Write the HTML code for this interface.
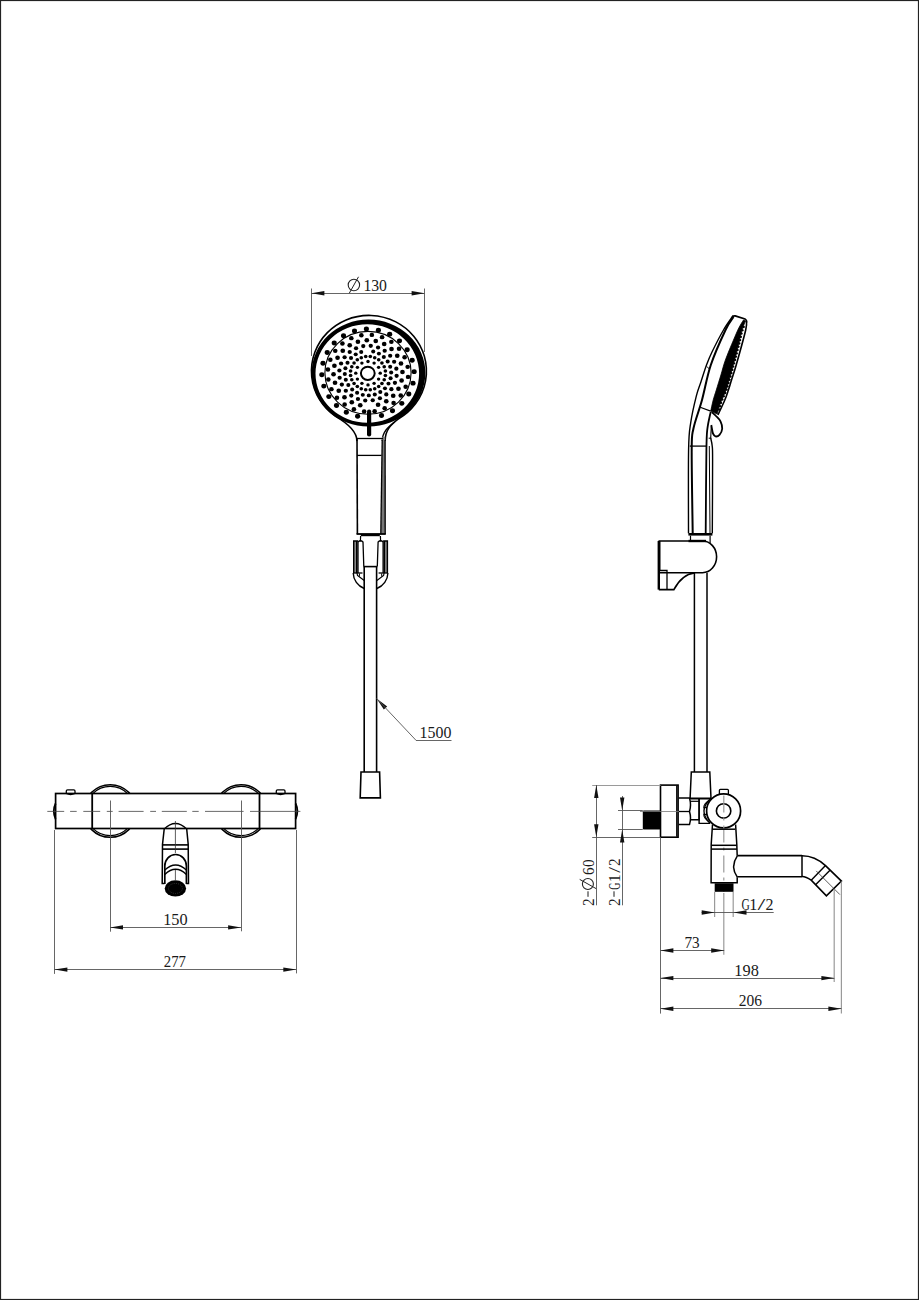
<!DOCTYPE html>
<html><head><meta charset="utf-8"><title>Drawing</title>
<style>
html,body{margin:0;padding:0;background:#fff;overflow:hidden;}
svg{display:block;}
text{font-family:"Liberation Serif",serif;fill:#1a1a1a;}
</style></head><body>
<svg width="919" height="1300" viewBox="0 0 919 1300">
<rect x="0" y="0" width="919" height="1300" fill="#fff"/>
<rect x="0.5" y="0.5" width="918" height="1299" fill="none" stroke="#222" stroke-width="1.2"/>

<line x1="311.50" y1="288.50" x2="311.50" y2="356.00" stroke="#555" stroke-width="0.9" />
<line x1="424.50" y1="288.50" x2="424.50" y2="352.00" stroke="#555" stroke-width="0.9" />
<line x1="311.40" y1="293.50" x2="424.60" y2="293.50" stroke="#555" stroke-width="0.9" />
<polygon points="311.40,293.30 324.40,291.10 324.40,295.50" fill="#111"/>
<polygon points="424.60,293.30 411.60,295.50 411.60,291.10" fill="#111"/>
<g transform="rotate(0 353.9 285.0)"><circle cx="353.9" cy="285.0" r="5.7" fill="none" stroke="#222" stroke-width="1.1"/><line x1="349.29999999999995" y1="293.2" x2="358.5" y2="276.8" stroke="#222" stroke-width="1.0"/></g>
<text x="363.4" y="290.6" font-size="16" textLength="23.6" lengthAdjust="spacingAndGlyphs" >130</text>
<path d="M356.9,441 C356.9,431 347,423 335.5,416.4 A57.5,55.7 0 1 1 398.6,418.8 C392,424 385.2,429 385.1,441" stroke="#000" stroke-width="1.6" fill="none" />
<path d="M394.5,422 C388,427 382.4,432 382.2,441" stroke="#000" stroke-width="1.3" fill="none" />
<path d="M311.60,373.10 A56.9,53.5 0 1 0 425.40,373.10 A56.9,53.5 0 1 0 311.60,373.10 Z M315.50,373.50 A51.8,49.2 0 1 0 419.10,373.50 A51.8,49.2 0 1 0 315.50,373.50 Z" fill="#000" fill-rule="evenodd"/>
<ellipse cx="368" cy="372.8" rx="43.1" ry="41.4" fill="none" stroke="#000" stroke-width="1.1"/>
<g fill="#000"><ellipse cx="366.39" cy="329.03" rx="2.56" ry="2.45"/><ellipse cx="378.39" cy="330.13" rx="2.56" ry="2.45"/><ellipse cx="389.68" cy="334.17" rx="2.56" ry="2.45"/><ellipse cx="399.50" cy="340.87" rx="2.56" ry="2.45"/><ellipse cx="407.17" cy="349.78" rx="2.56" ry="2.45"/><ellipse cx="412.17" cy="360.28" rx="2.56" ry="2.45"/><ellipse cx="414.16" cy="371.66" rx="2.56" ry="2.45"/><ellipse cx="413.01" cy="383.14" rx="2.56" ry="2.45"/><ellipse cx="408.78" cy="393.95" rx="2.56" ry="2.45"/><ellipse cx="401.78" cy="403.34" rx="2.56" ry="2.45"/><ellipse cx="392.48" cy="410.68" rx="2.56" ry="2.45"/><ellipse cx="381.50" cy="415.47" rx="2.56" ry="2.45"/><ellipse cx="357.61" cy="416.27" rx="2.56" ry="2.45"/><ellipse cx="346.32" cy="412.23" rx="2.56" ry="2.45"/><ellipse cx="336.50" cy="405.53" rx="2.56" ry="2.45"/><ellipse cx="328.83" cy="396.62" rx="2.56" ry="2.45"/><ellipse cx="323.83" cy="386.12" rx="2.56" ry="2.45"/><ellipse cx="321.84" cy="374.74" rx="2.56" ry="2.45"/><ellipse cx="322.99" cy="363.26" rx="2.56" ry="2.45"/><ellipse cx="327.22" cy="352.45" rx="2.56" ry="2.45"/><ellipse cx="334.22" cy="343.06" rx="2.56" ry="2.45"/><ellipse cx="343.52" cy="335.72" rx="2.56" ry="2.45"/><ellipse cx="354.50" cy="330.93" rx="2.56" ry="2.45"/><ellipse cx="371.86" cy="334.88" rx="2.30" ry="2.20"/><ellipse cx="382.09" cy="337.14" rx="2.30" ry="2.20"/><ellipse cx="391.36" cy="341.86" rx="2.30" ry="2.20"/><ellipse cx="399.04" cy="348.71" rx="2.30" ry="2.20"/><ellipse cx="404.61" cy="357.23" rx="2.30" ry="2.20"/><ellipse cx="407.68" cy="366.85" rx="2.30" ry="2.20"/><ellipse cx="408.05" cy="376.89" rx="2.30" ry="2.20"/><ellipse cx="405.68" cy="386.68" rx="2.30" ry="2.20"/><ellipse cx="400.75" cy="395.56" rx="2.30" ry="2.20"/><ellipse cx="393.59" cy="402.91" rx="2.30" ry="2.20"/><ellipse cx="384.68" cy="408.23" rx="2.30" ry="2.20"/><ellipse cx="374.64" cy="411.17" rx="2.30" ry="2.20"/><ellipse cx="364.14" cy="411.52" rx="2.30" ry="2.20"/><ellipse cx="353.91" cy="409.26" rx="2.30" ry="2.20"/><ellipse cx="344.64" cy="404.54" rx="2.30" ry="2.20"/><ellipse cx="336.96" cy="397.69" rx="2.30" ry="2.20"/><ellipse cx="331.39" cy="389.17" rx="2.30" ry="2.20"/><ellipse cx="328.32" cy="379.55" rx="2.30" ry="2.20"/><ellipse cx="327.95" cy="369.51" rx="2.30" ry="2.20"/><ellipse cx="330.32" cy="359.72" rx="2.30" ry="2.20"/><ellipse cx="335.25" cy="350.84" rx="2.30" ry="2.20"/><ellipse cx="342.41" cy="343.49" rx="2.30" ry="2.20"/><ellipse cx="351.32" cy="338.17" rx="2.30" ry="2.20"/><ellipse cx="361.36" cy="335.23" rx="2.30" ry="2.20"/><ellipse cx="366.80" cy="340.22" rx="2.35" ry="2.25"/><ellipse cx="375.76" cy="341.05" rx="2.35" ry="2.25"/><ellipse cx="384.19" cy="344.06" rx="2.35" ry="2.25"/><ellipse cx="391.52" cy="349.07" rx="2.35" ry="2.25"/><ellipse cx="397.24" cy="355.71" rx="2.35" ry="2.25"/><ellipse cx="400.98" cy="363.55" rx="2.35" ry="2.25"/><ellipse cx="402.46" cy="372.05" rx="2.35" ry="2.25"/><ellipse cx="401.60" cy="380.62" rx="2.35" ry="2.25"/><ellipse cx="398.45" cy="388.69" rx="2.35" ry="2.25"/><ellipse cx="393.22" cy="395.71" rx="2.35" ry="2.25"/><ellipse cx="386.27" cy="401.19" rx="2.35" ry="2.25"/><ellipse cx="378.08" cy="404.76" rx="2.35" ry="2.25"/><ellipse cx="360.24" cy="405.35" rx="2.35" ry="2.25"/><ellipse cx="351.81" cy="402.34" rx="2.35" ry="2.25"/><ellipse cx="344.48" cy="397.33" rx="2.35" ry="2.25"/><ellipse cx="338.76" cy="390.69" rx="2.35" ry="2.25"/><ellipse cx="335.02" cy="382.85" rx="2.35" ry="2.25"/><ellipse cx="333.54" cy="374.35" rx="2.35" ry="2.25"/><ellipse cx="334.40" cy="365.78" rx="2.35" ry="2.25"/><ellipse cx="337.55" cy="357.71" rx="2.35" ry="2.25"/><ellipse cx="342.78" cy="350.69" rx="2.35" ry="2.25"/><ellipse cx="349.73" cy="345.21" rx="2.35" ry="2.25"/><ellipse cx="357.92" cy="341.64" rx="2.35" ry="2.25"/><ellipse cx="370.75" cy="345.83" rx="2.14" ry="2.05"/><ellipse cx="378.06" cy="347.44" rx="2.14" ry="2.05"/><ellipse cx="384.69" cy="350.81" rx="2.14" ry="2.05"/><ellipse cx="390.17" cy="355.71" rx="2.14" ry="2.05"/><ellipse cx="394.15" cy="361.80" rx="2.14" ry="2.05"/><ellipse cx="396.34" cy="368.66" rx="2.14" ry="2.05"/><ellipse cx="396.61" cy="375.84" rx="2.14" ry="2.05"/><ellipse cx="394.92" cy="382.83" rx="2.14" ry="2.05"/><ellipse cx="391.40" cy="389.17" rx="2.14" ry="2.05"/><ellipse cx="386.28" cy="394.42" rx="2.14" ry="2.05"/><ellipse cx="379.92" cy="398.22" rx="2.14" ry="2.05"/><ellipse cx="372.74" cy="400.32" rx="2.14" ry="2.05"/><ellipse cx="365.25" cy="400.57" rx="2.14" ry="2.05"/><ellipse cx="357.94" cy="398.96" rx="2.14" ry="2.05"/><ellipse cx="351.31" cy="395.59" rx="2.14" ry="2.05"/><ellipse cx="345.83" cy="390.69" rx="2.14" ry="2.05"/><ellipse cx="341.85" cy="384.60" rx="2.14" ry="2.05"/><ellipse cx="339.66" cy="377.74" rx="2.14" ry="2.05"/><ellipse cx="339.39" cy="370.56" rx="2.14" ry="2.05"/><ellipse cx="341.08" cy="363.57" rx="2.14" ry="2.05"/><ellipse cx="344.60" cy="357.23" rx="2.14" ry="2.05"/><ellipse cx="349.72" cy="351.98" rx="2.14" ry="2.05"/><ellipse cx="356.08" cy="348.18" rx="2.14" ry="2.05"/><ellipse cx="363.26" cy="346.08" rx="2.14" ry="2.05"/><ellipse cx="373.22" cy="351.57" rx="2.04" ry="1.95"/><ellipse cx="378.89" cy="353.60" rx="2.04" ry="1.95"/><ellipse cx="383.82" cy="356.96" rx="2.04" ry="1.95"/><ellipse cx="387.67" cy="361.44" rx="2.04" ry="1.95"/><ellipse cx="390.19" cy="366.71" rx="2.04" ry="1.95"/><ellipse cx="391.18" cy="372.43" rx="2.04" ry="1.95"/><ellipse cx="390.60" cy="378.19" rx="2.04" ry="1.95"/><ellipse cx="388.48" cy="383.62" rx="2.04" ry="1.95"/><ellipse cx="384.97" cy="388.34" rx="2.04" ry="1.95"/><ellipse cx="380.29" cy="392.03" rx="2.04" ry="1.95"/><ellipse cx="374.78" cy="394.43" rx="2.04" ry="1.95"/><ellipse cx="368.81" cy="395.39" rx="2.04" ry="1.95"/><ellipse cx="362.78" cy="394.83" rx="2.04" ry="1.95"/><ellipse cx="357.11" cy="392.80" rx="2.04" ry="1.95"/><ellipse cx="352.18" cy="389.44" rx="2.04" ry="1.95"/><ellipse cx="348.33" cy="384.96" rx="2.04" ry="1.95"/><ellipse cx="345.81" cy="379.69" rx="2.04" ry="1.95"/><ellipse cx="344.82" cy="373.97" rx="2.04" ry="1.95"/><ellipse cx="345.40" cy="368.21" rx="2.04" ry="1.95"/><ellipse cx="347.52" cy="362.78" rx="2.04" ry="1.95"/><ellipse cx="351.03" cy="358.06" rx="2.04" ry="1.95"/><ellipse cx="355.71" cy="354.37" rx="2.04" ry="1.95"/><ellipse cx="361.22" cy="351.97" rx="2.04" ry="1.95"/><ellipse cx="370.29" cy="356.54" rx="1.83" ry="1.75"/><ellipse cx="374.72" cy="357.68" rx="1.83" ry="1.75"/><ellipse cx="378.69" cy="359.87" rx="1.83" ry="1.75"/><ellipse cx="381.93" cy="362.97" rx="1.83" ry="1.75"/><ellipse cx="384.22" cy="366.77" rx="1.83" ry="1.75"/><ellipse cx="385.41" cy="371.01" rx="1.83" ry="1.75"/><ellipse cx="385.41" cy="375.39" rx="1.83" ry="1.75"/><ellipse cx="384.22" cy="379.63" rx="1.83" ry="1.75"/><ellipse cx="381.93" cy="383.43" rx="1.83" ry="1.75"/><ellipse cx="378.69" cy="386.53" rx="1.83" ry="1.75"/><ellipse cx="374.72" cy="388.72" rx="1.83" ry="1.75"/><ellipse cx="370.29" cy="389.86" rx="1.83" ry="1.75"/><ellipse cx="365.71" cy="389.86" rx="1.83" ry="1.75"/><ellipse cx="361.28" cy="388.72" rx="1.83" ry="1.75"/><ellipse cx="357.31" cy="386.53" rx="1.83" ry="1.75"/><ellipse cx="354.07" cy="383.43" rx="1.83" ry="1.75"/><ellipse cx="351.78" cy="379.63" rx="1.83" ry="1.75"/><ellipse cx="350.59" cy="375.39" rx="1.83" ry="1.75"/><ellipse cx="350.59" cy="371.01" rx="1.83" ry="1.75"/><ellipse cx="351.78" cy="366.77" rx="1.83" ry="1.75"/><ellipse cx="354.07" cy="362.97" rx="1.83" ry="1.75"/><ellipse cx="357.31" cy="359.87" rx="1.83" ry="1.75"/><ellipse cx="361.28" cy="357.68" rx="1.83" ry="1.75"/><ellipse cx="365.71" cy="356.54" rx="1.83" ry="1.75"/><ellipse cx="368.00" cy="361.50" rx="1.72" ry="1.65"/><ellipse cx="374.11" cy="363.07" rx="1.72" ry="1.65"/><ellipse cx="378.59" cy="367.35" rx="1.72" ry="1.65"/><ellipse cx="380.23" cy="373.20" rx="1.72" ry="1.65"/><ellipse cx="378.59" cy="379.05" rx="1.72" ry="1.65"/><ellipse cx="374.11" cy="383.33" rx="1.72" ry="1.65"/><ellipse cx="368.00" cy="384.90" rx="1.72" ry="1.65"/><ellipse cx="361.89" cy="383.33" rx="1.72" ry="1.65"/><ellipse cx="357.41" cy="379.05" rx="1.72" ry="1.65"/><ellipse cx="355.77" cy="373.20" rx="1.72" ry="1.65"/><ellipse cx="357.41" cy="367.35" rx="1.72" ry="1.65"/><ellipse cx="361.89" cy="363.07" rx="1.72" ry="1.65"/></g>
<ellipse cx="367.8" cy="373.3" rx="6.9" ry="6.6" fill="#fff" stroke="#000" stroke-width="2"/>
<line x1="369.10" y1="411.50" x2="369.10" y2="434.50" stroke="#000" stroke-width="4.2" stroke-linecap="round"/>
<line x1="357.00" y1="438.00" x2="357.40" y2="534.00" stroke="#000" stroke-width="1.6" />
<polygon points="382.2,437 385.2,437 385.3,534 380.9,534" fill="#777"/>
<line x1="385.10" y1="440.00" x2="385.20" y2="534.00" stroke="#000" stroke-width="1.3" />
<line x1="382.20" y1="440.00" x2="380.80" y2="534.00" stroke="#000" stroke-width="1.3" />
<line x1="357.00" y1="438.50" x2="383.00" y2="438.50" stroke="#000" stroke-width="1.3" />
<line x1="357.00" y1="455.40" x2="381.50" y2="455.40" stroke="#000" stroke-width="1.3" />
<line x1="356.50" y1="534.00" x2="385.80" y2="534.00" stroke="#000" stroke-width="1.8" />
<rect x="360.8" y="534" width="19" height="2.2" fill="#000"/>
<line x1="360.60" y1="536.00" x2="360.40" y2="541.50" stroke="#000" stroke-width="1.2" />
<line x1="380.40" y1="536.00" x2="380.60" y2="541.50" stroke="#000" stroke-width="1.2" />
<polygon points="353.70,541 356.70,541 356.70,573 353.70,573" fill="#888"/>
<path d="M353.70,573 L353.70,541 L358.00,541" stroke="#000" stroke-width="1.4" fill="none" />
<line x1="356.80" y1="541.00" x2="356.80" y2="573.00" stroke="#000" stroke-width="1.6" />
<path d="M358.00,573 L358.00,542 Q360.50,539.5 363.00,542 L363.80,566.5" stroke="#000" stroke-width="1.3" fill="none" />
<line x1="353.20" y1="573.00" x2="362.50" y2="573.00" stroke="#000" stroke-width="1.3" />
<path d="M353.20,573 A17,17 0 0 0 364.20,588.5" stroke="#000" stroke-width="1.4" fill="none" />
<path d="M357.00,573 L357.50,575.5 L364.20,580.5" stroke="#000" stroke-width="1.2" fill="none" />
<line x1="359.50" y1="573.50" x2="359.30" y2="576.50" stroke="#000" stroke-width="1.0" />
<polygon points="387.40,541 384.40,541 384.40,573 387.40,573" fill="#888"/>
<path d="M387.40,573 L387.40,541 L383.10,541" stroke="#000" stroke-width="1.4" fill="none" />
<line x1="384.30" y1="541.00" x2="384.30" y2="573.00" stroke="#000" stroke-width="1.6" />
<path d="M383.10,573 L383.10,542 Q380.60,539.5 378.10,542 L377.30,566.5" stroke="#000" stroke-width="1.3" fill="none" />
<line x1="387.90" y1="573.00" x2="378.60" y2="573.00" stroke="#000" stroke-width="1.3" />
<path d="M387.90,573 A17,17 0 0 1 376.90,588.5" stroke="#000" stroke-width="1.4" fill="none" />
<path d="M384.10,573 L383.60,575.5 L376.90,580.5" stroke="#000" stroke-width="1.2" fill="none" />
<line x1="381.60" y1="573.50" x2="381.80" y2="576.50" stroke="#000" stroke-width="1.0" />
<line x1="364.20" y1="566.60" x2="364.20" y2="772.00" stroke="#000" stroke-width="1.6" />
<line x1="376.60" y1="566.60" x2="376.60" y2="772.00" stroke="#000" stroke-width="1.6" />
<line x1="363.50" y1="566.60" x2="377.30" y2="566.60" stroke="#000" stroke-width="1.6" />
<path d="M361,772 L379.6,772 L380.4,797.9 L360.2,797.9 Z" stroke="#000" stroke-width="1.6" fill="none" />
<polygon points="376.60,698.50 387.19,706.38 383.84,709.54" fill="#111"/>
<line x1="376.60" y1="698.50" x2="415.90" y2="740.20" stroke="#555" stroke-width="0.9" />
<line x1="415.90" y1="740.50" x2="451.50" y2="740.50" stroke="#555" stroke-width="0.9" />
<text x="419.6" y="738.1" font-size="16" textLength="31.8" lengthAdjust="spacingAndGlyphs" >1500</text>
<defs><clipPath id="outbody"><path d="M0,0 H919 V793.5 H0 Z M0,828.5 H919 V1300 H0 Z"/></clipPath></defs>
<g clip-path="url(#outbody)" fill="none" stroke="#000">
<circle cx="110.2" cy="811" r="26.3" stroke-width="1.5"/>
<circle cx="110.2" cy="811" r="24.6" stroke-width="1.3"/>
<circle cx="241.0" cy="811" r="26.3" stroke-width="1.5"/>
<circle cx="241.0" cy="811" r="24.6" stroke-width="1.3"/>
</g>
<path d="M66.3,793.5 L66.3,791 Q66.3,789.8 67.5,789.8 L73.8,789.8 Q75,789.8 75,791 L75,793.5 Q70.6,795.6 66.3,793.5" stroke="#000" stroke-width="1.3" fill="none" />
<path d="M276.3,793.5 L276.3,791 Q276.3,789.8 277.5,789.8 L283.8,789.8 Q285,789.8 285,791 L285,793.5 Q280.6,795.6 276.3,793.5" stroke="#000" stroke-width="1.3" fill="none" />
<rect x="55.6" y="793.5" width="240" height="35" fill="none" stroke="#000" stroke-width="1.7"/>
<path d="M55.6,803.5 Q52,811.2 55.6,819" stroke="#000" stroke-width="1.8" fill="none" />
<path d="M295.6,803.5 Q299.2,811.2 295.6,819" stroke="#000" stroke-width="1.8" fill="none" />
<line x1="92.20" y1="793.50" x2="92.20" y2="828.50" stroke="#000" stroke-width="1.8" />
<line x1="259.50" y1="793.50" x2="259.50" y2="828.50" stroke="#000" stroke-width="1.8" />
<line x1="47.30" y1="811.40" x2="64.20" y2="811.40" stroke="#444" stroke-width="0.8" />
<line x1="70.10" y1="811.40" x2="76.70" y2="811.40" stroke="#444" stroke-width="0.8" />
<line x1="83.30" y1="811.40" x2="100.20" y2="811.40" stroke="#444" stroke-width="0.8" />
<line x1="106.80" y1="811.40" x2="112.70" y2="811.40" stroke="#444" stroke-width="0.8" />
<line x1="118.60" y1="811.40" x2="143.60" y2="811.40" stroke="#444" stroke-width="0.8" />
<line x1="150.20" y1="811.40" x2="156.00" y2="811.40" stroke="#444" stroke-width="0.8" />
<line x1="161.80" y1="811.40" x2="186.80" y2="811.40" stroke="#444" stroke-width="0.8" />
<line x1="192.30" y1="811.40" x2="198.70" y2="811.40" stroke="#444" stroke-width="0.8" />
<line x1="205.00" y1="811.40" x2="243.60" y2="811.40" stroke="#444" stroke-width="0.8" />
<line x1="250.00" y1="811.40" x2="300.40" y2="811.40" stroke="#444" stroke-width="0.8" />
<path d="M164.2,828.9 Q175.4,818 186.7,828.9" stroke="#000" stroke-width="1.3" fill="none" />
<path d="M164.2,829 L162.5,844.4 L162.2,883.6 L164.5,883.6" stroke="#000" stroke-width="1.5" fill="none" />
<path d="M186.7,829 L188.2,844.4 L188.5,883.6 L186.2,883.6" stroke="#000" stroke-width="1.5" fill="none" />
<line x1="162.50" y1="844.90" x2="188.10" y2="844.90" stroke="#000" stroke-width="1.6" />
<line x1="162.50" y1="849.10" x2="188.10" y2="849.10" stroke="#000" stroke-width="1.6" />
<path d="M164.8,884 L164.8,866 A10.8,11.5 0 0 1 186.4,866 L186.4,884" stroke="#000" stroke-width="1.7" fill="none" />
<path d="M164.8,870 Q175.6,860 186.4,870" stroke="#000" stroke-width="1.4" fill="none" />
<path d="M164.8,874.5 Q175.6,864 186.4,874.5" stroke="#000" stroke-width="1.4" fill="none" />
<ellipse cx="175.4" cy="888.4" rx="10.7" ry="8.1" fill="#000"/>
<ellipse cx="175.4" cy="888.4" rx="7" ry="5" fill="none" stroke="#555" stroke-width="0.6" stroke-dasharray="1 1.2"/>
<line x1="175.40" y1="821.00" x2="175.40" y2="853.00" stroke="#333" stroke-width="0.8" />
<line x1="175.40" y1="870.00" x2="175.40" y2="880.00" stroke="#333" stroke-width="0.8" />
<line x1="110.50" y1="800.50" x2="110.50" y2="931.70" stroke="#555" stroke-width="0.9" />
<line x1="241.50" y1="800.50" x2="241.50" y2="931.30" stroke="#555" stroke-width="0.9" />
<line x1="54.50" y1="830.00" x2="54.50" y2="973.90" stroke="#555" stroke-width="0.9" />
<line x1="296.50" y1="830.00" x2="296.50" y2="973.40" stroke="#555" stroke-width="0.9" />
<line x1="110.00" y1="927.50" x2="241.10" y2="927.50" stroke="#555" stroke-width="0.9" />
<polygon points="110.00,927.40 123.00,925.20 123.00,929.60" fill="#111"/>
<polygon points="241.10,927.40 228.10,929.60 228.10,925.20" fill="#111"/>
<text x="163.2" y="924.7" font-size="16" textLength="24.4" lengthAdjust="spacingAndGlyphs" >150</text>
<line x1="54.40" y1="969.50" x2="296.30" y2="969.50" stroke="#555" stroke-width="0.9" />
<polygon points="54.40,969.60 67.40,967.40 67.40,971.80" fill="#111"/>
<polygon points="296.30,969.60 283.30,971.80 283.30,967.40" fill="#111"/>
<text x="163.8" y="967" font-size="16" textLength="22.2" lengthAdjust="spacingAndGlyphs" >277</text>
<path d="M733.30,315.40 C731.67,317.83 727.05,323.90 723.50,330.00 C719.95,336.10 714.83,346.17 712.00,352.00 C709.17,357.83 708.35,360.00 706.50,365.00 C704.65,370.00 702.60,376.82 700.90,382.00 C699.20,387.18 697.98,389.40 696.30,396.10 C694.62,402.80 692.08,413.38 690.80,422.20 C689.52,431.02 688.98,430.48 688.60,449.00 C688.22,467.52 688.52,519.25 688.50,533.30" stroke="#000" stroke-width="1.4" fill="none" />
<path d="M733.50,317.00 C732.17,319.17 729.28,322.00 725.50,330.00 C721.72,338.00 714.72,353.33 710.80,365.00 C706.88,376.67 704.90,389.38 702.00,400.00 C699.10,410.62 695.12,420.37 693.40,428.70 C691.68,437.03 691.82,432.57 691.70,450.00 C691.58,467.43 692.53,519.42 692.70,533.30" stroke="#000" stroke-width="2.0" fill="none" />
<path d="M731.6,318 Q733,315.3 735.2,315.9 L745,319 Q746.9,320 746.6,322.5" stroke="#000" stroke-width="1.7" fill="none" />
<path d="M743.50,320.00 C742.75,321.27 740.67,324.27 739.00,327.60 C737.33,330.93 735.77,334.60 733.50,340.00 C731.23,345.40 727.50,354.17 725.40,360.00 C723.30,365.83 722.42,370.00 720.90,375.00 C719.38,380.00 717.58,385.83 716.30,390.00 C715.02,394.17 714.13,396.48 713.20,400.00 C712.27,403.52 711.12,409.25 710.70,411.10 L717.20,414.00 C717.75,412.17 719.02,407.00 720.50,403.00 C721.98,399.00 724.43,394.67 726.10,390.00 C727.77,385.33 729.08,380.00 730.50,375.00 C731.92,370.00 733.27,365.00 734.60,360.00 C735.93,355.00 737.35,349.67 738.50,345.00 C739.65,340.33 740.37,336.00 741.50,332.00 C742.63,328.00 744.67,322.83 745.30,321.00 Z" stroke="#000" stroke-width="0.8" fill="#000" />
<g fill="#000"><circle cx="743.73" cy="327.00" r="1.15"/><circle cx="742.59" cy="330.30" r="1.15"/><circle cx="741.63" cy="333.60" r="1.15"/><circle cx="740.87" cy="336.90" r="1.15"/><circle cx="740.11" cy="340.20" r="1.15"/><circle cx="739.35" cy="343.50" r="1.15"/><circle cx="738.53" cy="346.80" r="1.15"/><circle cx="737.67" cy="350.10" r="1.15"/><circle cx="736.82" cy="353.40" r="1.15"/><circle cx="735.96" cy="356.70" r="1.15"/><circle cx="735.10" cy="360.00" r="1.15"/><circle cx="734.20" cy="363.30" r="1.15"/><circle cx="733.30" cy="366.60" r="1.15"/><circle cx="732.39" cy="369.90" r="1.15"/><circle cx="731.49" cy="373.20" r="1.15"/><circle cx="730.56" cy="376.50" r="1.15"/><circle cx="729.59" cy="379.80" r="1.15"/><circle cx="728.62" cy="383.10" r="1.15"/><circle cx="727.66" cy="386.40" r="1.15"/><circle cx="726.69" cy="389.70" r="1.15"/><circle cx="725.31" cy="393.00" r="1.15"/><circle cx="723.89" cy="396.30" r="1.15"/><circle cx="722.46" cy="399.60" r="1.15"/><circle cx="721.04" cy="402.90" r="1.15"/><circle cx="720.04" cy="406.20" r="1.15"/><circle cx="719.05" cy="409.50" r="1.15"/></g>
<path d="M746.40,320.70 C746.28,322.25 747.40,322.62 745.70,330.00 C744.00,337.38 738.57,356.67 736.20,365.00 C733.83,373.33 732.80,375.83 731.50,380.00 C730.20,384.17 729.52,386.67 728.40,390.00 C727.28,393.33 726.55,395.83 724.80,400.00 C723.05,404.17 719.05,412.50 717.90,415.00" stroke="#000" stroke-width="1.6" fill="none" />
<line x1="700.20" y1="407.20" x2="710.70" y2="411.10" stroke="#000" stroke-width="1.2" />
<line x1="706.80" y1="366.40" x2="709.40" y2="369.00" stroke="#000" stroke-width="1.0" />
<path d="M711.80,412.20 C712.50,412.83 714.55,414.47 716.00,416.00 C717.45,417.53 719.47,419.28 720.50,421.40 C721.53,423.52 722.37,426.47 722.20,428.70 C722.03,430.93 720.62,433.52 719.50,434.80 C718.38,436.08 716.58,436.62 715.50,436.40 C714.42,436.18 713.58,434.73 713.00,433.50 C712.42,432.27 712.28,430.42 712.00,429.00 C711.72,427.58 711.42,425.67 711.30,425.00" stroke="#000" stroke-width="1.8" fill="none" />
<path d="M710.70,411.80 C710.15,414.62 708.12,422.33 707.40,428.70 C706.68,435.07 706.68,432.57 706.40,450.00 C706.12,467.43 705.82,519.42 705.70,533.30" stroke="#000" stroke-width="1.8" fill="none" />
<line x1="711.30" y1="426.10" x2="710.70" y2="438.20" stroke="#000" stroke-width="1.1" />
<line x1="708.70" y1="438.20" x2="711.30" y2="438.20" stroke="#000" stroke-width="1.0" />
<path d="M710.70,438.20 C710.95,439.50 711.88,442.37 712.20,446.00 C712.52,449.63 712.58,445.45 712.60,460.00 C712.62,474.55 712.35,521.08 712.30,533.30" stroke="#000" stroke-width="1.4" fill="none" />
<line x1="709.30" y1="446.00" x2="710.00" y2="533.30" stroke="#000" stroke-width="1.0" />
<line x1="689.80" y1="446.10" x2="706.40" y2="446.10" stroke="#000" stroke-width="1.3" />
<line x1="688.40" y1="534.30" x2="712.40" y2="534.30" stroke="#000" stroke-width="2.6" />
<line x1="690.50" y1="535.70" x2="690.50" y2="541.00" stroke="#000" stroke-width="1.2" />
<line x1="710.10" y1="535.70" x2="710.10" y2="543.00" stroke="#000" stroke-width="1.2" />
<path d="M658.5,541 L702.5,541 A14.1,15.85 0 0 1 702.5,572.7 L658.5,572.7" stroke="#000" stroke-width="1.6" fill="none" />
<line x1="688.50" y1="541.00" x2="706.00" y2="541.00" stroke="#000" stroke-width="2.4" />
<line x1="659.90" y1="541.00" x2="659.90" y2="570.50" stroke="#000" stroke-width="1.2" />
<line x1="658.80" y1="541.00" x2="658.80" y2="589.60" stroke="#000" stroke-width="2.4" />
<path d="M658.8,570.5 L667,570.5 L667,589.6" stroke="#000" stroke-width="1.3" fill="none" />
<path d="M658.8,589.6 L673.9,589.6 C679,580 685,574 694.4,573" stroke="#000" stroke-width="1.6" fill="none" />
<line x1="694.40" y1="573.00" x2="694.40" y2="772.00" stroke="#000" stroke-width="1.5" />
<line x1="707.00" y1="572.70" x2="707.00" y2="772.00" stroke="#000" stroke-width="1.5" />
<path d="M691.3,772 L709.8,772 L711,798.3 L690.1,798.3 Z" stroke="#000" stroke-width="1.5" fill="none" />
<rect x="660.5" y="785.1" width="17.6" height="52.1" fill="none" stroke="#000" stroke-width="1.6"/>
<line x1="676.80" y1="785.50" x2="676.80" y2="836.80" stroke="#000" stroke-width="1.4" />
<rect x="642.8" y="810.5" width="17.7" height="18.9" rx="1" fill="#000"/>
<path d="M678.7,798.1 L689.5,798.1 Q691.5,805 689.5,811.5 Q691.5,818 689.5,824.6 L678.7,824.6" stroke="#000" stroke-width="1.5" fill="none" />
<line x1="678.70" y1="811.50" x2="689.80" y2="811.50" stroke="#000" stroke-width="1.3" />
<path d="M690.1,798.9 L699.1,798.9 L699.1,819.8 L690.1,819.8" stroke="#000" stroke-width="1.4" fill="none" />
<line x1="690.10" y1="801.30" x2="699.10" y2="801.30" stroke="#000" stroke-width="1.2" />
<path d="M699.1,798.9 L709.8,798.9 M699.1,798.9 L699.1,823.4 L710,823.4" stroke="#000" stroke-width="1.4" fill="none" />
<path d="M710.7,798.4 Q697.5,810.8 710.2,823.5" stroke="#000" stroke-width="1.4" fill="none" />
<path d="M709.2,800.2 Q703.5,804 703.8,807.6 L707,807.6 L707,814.4 L703.8,814.4 Q703.5,818 709,821.8" stroke="#000" stroke-width="1.1" fill="none" />
<circle cx="723.6" cy="810.9" r="17" fill="#fff" stroke="#000" stroke-width="1.7"/>
<circle cx="723.6" cy="810.9" r="7.2" fill="none" stroke="#000" stroke-width="1.6"/>
<path d="M719.4,794.3 L719.4,790.3 Q719.4,789.3 720.4,789.3 L727.4,789.3 Q728.4,789.3 728.4,790.3 L728.4,794.3" stroke="#000" stroke-width="1.3" fill="none" />
<line x1="723.8" y1="795.5" x2="723.8" y2="892" stroke="#999" stroke-width="1.2" stroke-dasharray="17 5 3 5"/>
<line x1="723.80" y1="893.00" x2="723.80" y2="954.80" stroke="#9a9a9a" stroke-width="1.2" />
<path d="M712.5,824.5 L711.2,844.5 L711.1,882.8 L737.2,882.8 L737.2,877.3 M737.2,855.8 L736.8,844.5 L735.6,824.5" stroke="#000" stroke-width="1.5" fill="none" />
<line x1="712.40" y1="829.20" x2="735.20" y2="829.20" stroke="#000" stroke-width="1.5" />
<line x1="711.40" y1="845.30" x2="736.70" y2="845.30" stroke="#000" stroke-width="1.5" />
<line x1="711.40" y1="849.10" x2="736.90" y2="849.10" stroke="#000" stroke-width="1.5" />
<path d="M737.3,855.8 Q730,866.5 737.3,877.2" stroke="#000" stroke-width="1.5" fill="none" />
<line x1="737.30" y1="855.60" x2="802.00" y2="855.60" stroke="#000" stroke-width="1.6" />
<line x1="737.30" y1="876.80" x2="802.00" y2="876.80" stroke="#000" stroke-width="1.6" />
<line x1="802.00" y1="855.60" x2="802.00" y2="876.80" stroke="#000" stroke-width="1.5" />
<path d="M802,855.7 C812,855.7 819,859.5 825.5,865.6 L841.4,881.1 L826.4,895.8 L811.2,880.2 C807.5,877.6 805,876.6 802,876.5" stroke="#000" stroke-width="1.6" fill="none" />
<line x1="811.20" y1="880.20" x2="825.50" y2="865.60" stroke="#000" stroke-width="1.4" />
<line x1="815.60" y1="884.70" x2="830.00" y2="870.30" stroke="#000" stroke-width="1.4" />
<line x1="816.20" y1="870.90" x2="839.90" y2="894.60" stroke="#333" stroke-width="0.8" />
<rect x="714.7" y="883.3" width="18.8" height="8.5" fill="#000"/>
<line x1="640" y1="811.5" x2="679" y2="811.5" stroke="#777" stroke-width="0.8"/>
<line x1="592.20" y1="785.50" x2="660.50" y2="785.50" stroke="#9a9a9a" stroke-width="1.2" />
<line x1="592.20" y1="837.50" x2="660.50" y2="837.50" stroke="#555" stroke-width="0.9" />
<line x1="618.00" y1="810.50" x2="642.80" y2="810.50" stroke="#555" stroke-width="0.9" />
<line x1="618.00" y1="829.50" x2="642.80" y2="829.50" stroke="#555" stroke-width="0.9" />
<line x1="660.50" y1="837.20" x2="660.50" y2="1013.60" stroke="#555" stroke-width="0.9" />
<line x1="714.60" y1="892.00" x2="714.60" y2="917.00" stroke="#9a9a9a" stroke-width="1.2" />
<line x1="733.20" y1="892.00" x2="733.20" y2="917.00" stroke="#9a9a9a" stroke-width="1.2" />
<line x1="834.20" y1="889.00" x2="834.20" y2="982.00" stroke="#9a9a9a" stroke-width="1.2" />
<line x1="841.40" y1="881.50" x2="841.40" y2="1013.60" stroke="#9a9a9a" stroke-width="1.2" />
<line x1="596.50" y1="785.10" x2="596.50" y2="905.30" stroke="#555" stroke-width="0.9" />
<polygon points="596.30,785.10 598.50,798.10 594.10,798.10" fill="#111"/>
<polygon points="596.30,837.20 594.10,824.20 598.50,824.20" fill="#111"/>
<line x1="622.50" y1="796.00" x2="622.50" y2="905.30" stroke="#555" stroke-width="0.9" />
<polygon points="622.20,810.50 620.00,797.50 624.40,797.50" fill="#111"/>
<polygon points="622.20,829.40 624.40,842.40 620.00,842.40" fill="#111"/>
<g transform="translate(594.0 905.3) rotate(-90)"><text transform="translate(-0.60 0) scale(0.95 1)" x="0" y="0" font-size="16">2</text><text transform="translate(30.20 0) scale(0.95 1)" x="0" y="0" font-size="16">6</text><text transform="translate(38.40 0) scale(0.95 1)" x="0" y="0" font-size="16">0</text><line x1="8.5" y1="-6.0" x2="14.0" y2="-6.0" stroke="#1a1a1a" stroke-width="1.0"/></g>
<g transform="rotate(-90 587.9 884.0)"><circle cx="587.9" cy="884.0" r="5.5" fill="none" stroke="#222" stroke-width="1.1"/><line x1="583.3" y1="892.2" x2="592.5" y2="875.8" stroke="#222" stroke-width="1.0"/></g>
<g transform="translate(620.0 905.3) rotate(-90)"><text transform="translate(-0.60 0) scale(0.95 1)" x="0" y="0" font-size="16">2</text><text transform="translate(15.60 0) scale(0.62 1)" x="0" y="0" font-size="16">G</text><text transform="translate(23.20 0) scale(0.95 1)" x="0" y="0" font-size="16">1</text><text transform="translate(32.60 0) scale(1.3 1)" x="0" y="0" font-size="16">/</text><text transform="translate(39.20 0) scale(0.95 1)" x="0" y="0" font-size="16">2</text><line x1="8.5" y1="-6.0" x2="14.0" y2="-6.0" stroke="#1a1a1a" stroke-width="1.0"/></g>
<line x1="701.60" y1="912.50" x2="773.70" y2="912.50" stroke="#555" stroke-width="0.9" />
<polygon points="714.70,912.50 701.70,914.70 701.70,910.30" fill="#111"/>
<polygon points="733.50,912.50 746.50,910.30 746.50,914.70" fill="#111"/>
<text transform="translate(741.40 909.8) scale(0.72 1)" x="0" y="0" font-size="16">G</text><text transform="translate(749.30 909.8) scale(1.0 1)" x="0" y="0" font-size="16">1</text><text transform="translate(757.40 909.8) scale(1.75 1)" x="0" y="0" font-size="16">/</text><text transform="translate(765.40 909.8) scale(1.0 1)" x="0" y="0" font-size="16">2</text>
<line x1="660.40" y1="950.50" x2="724.20" y2="950.50" stroke="#555" stroke-width="0.9" />
<polygon points="660.40,950.50 673.40,948.30 673.40,952.70" fill="#111"/>
<polygon points="724.20,950.50 711.20,952.70 711.20,948.30" fill="#111"/>
<text x="684.4" y="948.3" font-size="16" textLength="15.2" lengthAdjust="spacingAndGlyphs" >73</text>
<line x1="660.40" y1="978.50" x2="834.40" y2="978.50" stroke="#555" stroke-width="0.9" />
<polygon points="660.40,978.10 673.40,975.90 673.40,980.30" fill="#111"/>
<polygon points="834.40,978.10 821.40,980.30 821.40,975.90" fill="#111"/>
<text x="734.3" y="975.9" font-size="16" textLength="24.5" lengthAdjust="spacingAndGlyphs" >198</text>
<line x1="660.40" y1="1008.50" x2="841.40" y2="1008.50" stroke="#555" stroke-width="0.9" />
<polygon points="660.40,1008.80 673.40,1006.60 673.40,1011.00" fill="#111"/>
<polygon points="841.40,1008.80 828.40,1011.00 828.40,1006.60" fill="#111"/>
<text x="738.8" y="1006.4" font-size="16" textLength="23.3" lengthAdjust="spacingAndGlyphs" >206</text>
</svg>
</body></html>
